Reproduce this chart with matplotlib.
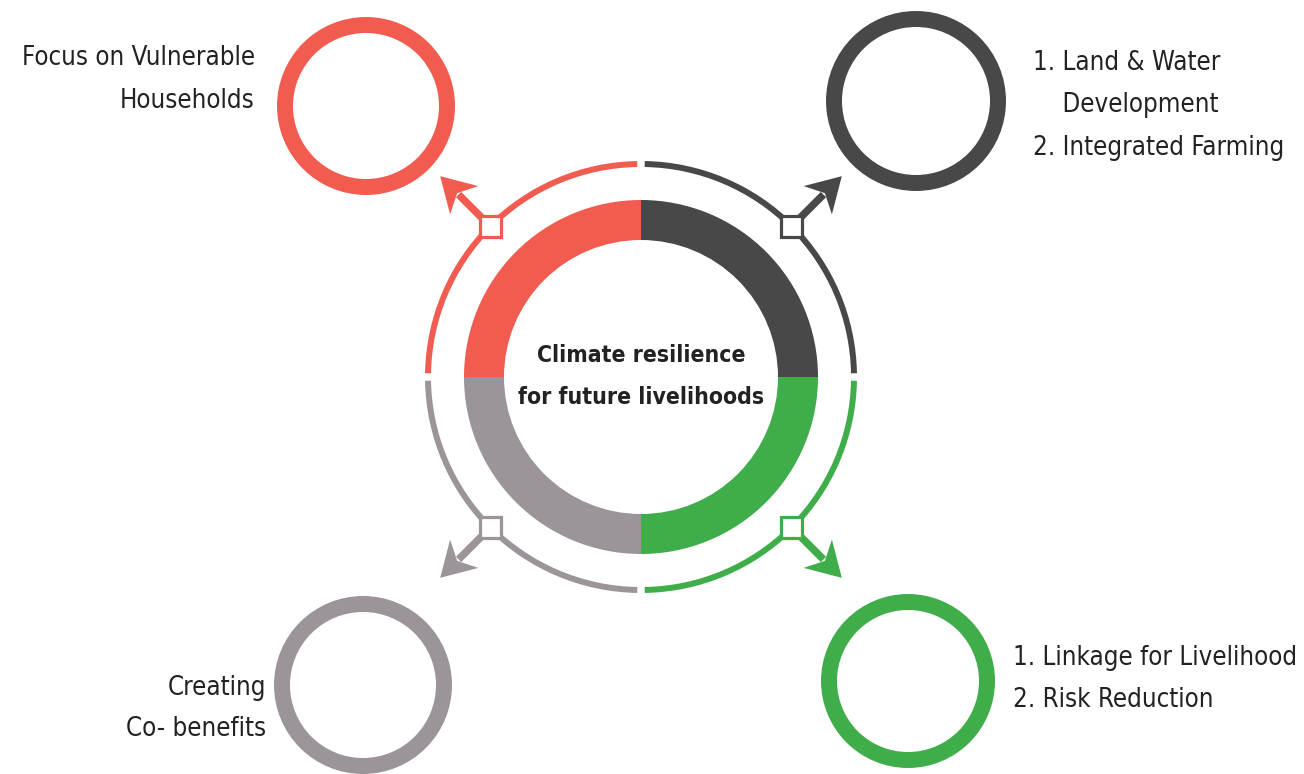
"""
Climate resilience diagram: central four-part donut, outer ring with
arrows pointing to four labelled circles.
"""

import numpy as np
import matplotlib.pyplot as plt
from matplotlib.patches import Wedge, Arc, Circle, Rectangle, Polygon

W, H = 1304, 774

# quadrants, listed counter-clockwise from the right (screen angles)
quadrants = ["Land & Water / Farming", "Vulnerable households",
             "Co-benefits", "Livelihood / Risk"]
quad_start = [0, 90, 180, 270]
colors = ['#484848', '#F25C50', '#9B9599', '#3FAE4A']

# outer circles (pixel positions, top-left origin)
circle_x = [916, 366, 363, 908]
circle_y = [101, 106, 685, 681]
circle_r = [90, 89, 89, 87]

center_title = ["Climate resilience", "for future livelihoods"]

label_lines = [
    ["1. Land & Water", "    Development", "2. Integrated Farming"],
    ["Focus on Vulnerable", "Households"],
    ["Creating", "Co- benefits"],
    ["1. Linkage for Livelihood", "2. Risk Reduction"],
]
label_x = [1033, 255, 266, 1013]
label_y0 = [63, 58, 688, 658]
label_step = [42.5, 43, 41, 42]
label_ha = ['left', 'right', 'right', 'left']

CX, CY = 641, 377
R_OUT, R_IN = 177, 137
R_RING = 213
R_TIP = 284

TEXT_COLOR = '#222222'
FONT = dict(family='DejaVu Sans', fontstretch='condensed')

fig = plt.figure(figsize=(W / 100, H / 100), dpi=100)
ax = fig.add_axes([0, 0, 1, 1])
ax.set_xlim(0, W)
ax.set_ylim(H, 0)
ax.axis('off')


def pt(angle_deg, r):
    a = np.deg2rad(angle_deg)
    return CX + r * np.cos(a), CY - r * np.sin(a)


for start, col in zip(quad_start, colors):
    # donut segment (data angles are mirrored because y is inverted)
    ax.add_patch(Wedge((CX, CY), R_OUT, -(start + 90), -start,
                       width=R_OUT - R_IN, facecolor=col, edgecolor='none'))
    # thin outer ring with small gaps
    ax.add_patch(Arc((CX, CY), 2 * R_RING, 2 * R_RING,
                     theta1=-(start + 90) + 1.0, theta2=-start - 1.0,
                     color=col, lw=4.3))

    mid = start + 45
    sx, sy = pt(mid, R_RING)
    # arrow shaft + head
    hx, hy = pt(mid, R_TIP - 26)
    ax.plot([sx, hx], [sy, hy], color=col, lw=5.4, solid_capstyle='butt')
    a = np.deg2rad(mid)
    ux, uy = np.cos(a), -np.sin(a)
    px, py = -uy, ux
    tx, ty = pt(mid, R_TIP)
    bx, by = tx - 34 * ux, ty - 34 * uy
    nx, ny = tx - 24 * ux, ty - 24 * uy
    head = [(tx, ty), (bx + 20 * px, by + 20 * py), (nx, ny),
            (bx - 20 * px, by - 20 * py)]
    ax.add_patch(Polygon(head, closed=True, facecolor=col, edgecolor='none'))
    # square marker on ring
    ax.add_patch(Rectangle((sx - 10.5, sy - 10.5), 21, 21, facecolor='white',
                           edgecolor=col, lw=2.3, zorder=5))

for i, col in enumerate(colors):
    ax.add_patch(Circle((circle_x[i], circle_y[i]), circle_r[i] - 8,
                        fill=False, edgecolor=col, lw=11.5))
    for j, line in enumerate(label_lines[i]):
        ax.text(label_x[i], label_y0[i] + j * label_step[i], line,
                ha=label_ha[i], va='center', fontsize=18.5,
                color=TEXT_COLOR, **FONT)

ax.text(CX, 356, center_title[0], ha='center', va='center', fontsize=16.5,
        fontweight='bold', color=TEXT_COLOR, **FONT)
ax.text(CX, 397, center_title[1], ha='center', va='center', fontsize=16.5,
        fontweight='bold', color=TEXT_COLOR, **FONT)

fig.savefig('out.png', dpi=100, facecolor='white')
plt.close()
